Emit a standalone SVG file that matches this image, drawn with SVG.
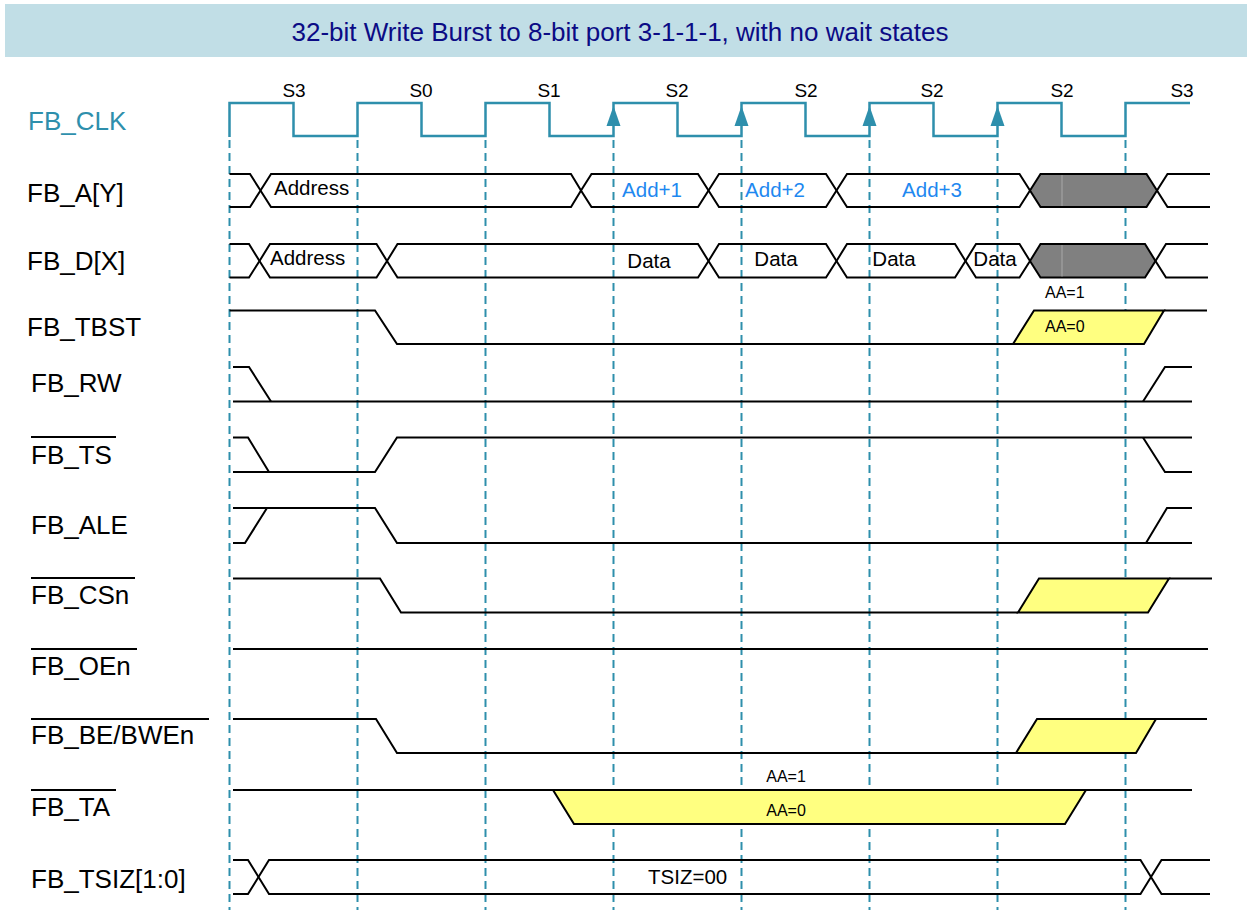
<svg xmlns="http://www.w3.org/2000/svg" width="1247" height="910" viewBox="0 0 1247 910">
<defs>
<style>
text{font-family:"Liberation Sans",Arial,Helvetica,sans-serif;}
.lbl{font-size:26px;fill:#000;}
.st{font-size:19px;fill:#000;text-anchor:middle;}
.bus{font-size:20.5px;fill:#000;}
.addr{font-size:20.5px;fill:#1e88f0;text-anchor:middle;}
.aa{font-size:16px;fill:#000;}
.sig{fill:none;stroke:#000;stroke-width:2;stroke-linejoin:miter;}
.hex{fill:none;stroke:#000;stroke-width:2;}
.grey{fill:#808080;stroke:#000;stroke-width:2;}
.yel{fill:#ffff80;stroke:#000;stroke-width:2;}
.ob{stroke:#000;stroke-width:2;}
.grid{stroke:#2e8fac;stroke-width:2;stroke-dasharray:8 5;}
.clk{fill:none;stroke:#2e8fac;stroke-width:2.5;}
.arr{fill:#2e8fac;}
</style>
</defs>
<rect width="1247" height="910" fill="#fff"/>
<g id="title">
<rect x="5" y="4" width="1242" height="53" fill="#c1dee6"/>
<text x="620" y="41" font-size="26" fill="#0b0b85" text-anchor="middle">32-bit Write Burst to 8-bit port 3-1-1-1, with no wait states</text>
</g>
<g id="gridlines">
<line class="grid" x1="229.5" y1="140" x2="229.5" y2="910"/>
<line class="grid" x1="357.5" y1="140" x2="357.5" y2="910"/>
<line class="grid" x1="485.5" y1="140" x2="485.5" y2="910"/>
<line class="grid" x1="613.5" y1="140" x2="613.5" y2="910"/>
<line class="grid" x1="741.5" y1="140" x2="741.5" y2="910"/>
<line class="grid" x1="869.5" y1="140" x2="869.5" y2="910"/>
<line class="grid" x1="997.5" y1="140" x2="997.5" y2="910"/>
<line class="grid" x1="1125.5" y1="140" x2="1125.5" y2="910"/>
</g>
<g id="FB_CLK">
<text x="28" y="130" class="lbl" style="fill:#2e8fac">FB_CLK</text>
<path class="clk" d="M229.5,137 V103 H293.5 V136 H357.5 V103 H421.5 V136 H485.5 V103 H549.5 V136 H613.5 V103 H677.5 V136 H741.5 V103 H805.5 V136 H869.5 V103 H933.5 V136 H997.5 V103 H1061.5 V136 H1125.5 V103 H1190"/>
<polygon class="arr" points="613.5,106 606.5,126 620.5,126"/>
<polygon class="arr" points="741.5,106 734.5,126 748.5,126"/>
<polygon class="arr" points="869.5,106 862.5,126 876.5,126"/>
<polygon class="arr" points="997.5,106 990.5,126 1004.5,126"/>
<text class="st" x="294" y="97">S3</text>
<text class="st" x="421" y="97">S0</text>
<text class="st" x="549" y="97">S1</text>
<text class="st" x="677" y="97">S2</text>
<text class="st" x="806" y="97">S2</text>
<text class="st" x="932" y="97">S2</text>
<text class="st" x="1062" y="97">S2</text>
<text class="st" x="1182" y="97">S3</text>
</g>
<g id="FB_A">
<text x="27" y="202" class="lbl">FB_A[Y]</text>
<path class="sig" d="M229.5,174 H250 L260.5,190.5 L250,207 H229.5"/>
<path class="hex" d="M260.5,190.5 L271,174 H571 L581,190.5 L571,207 H271 Z"/>
<path class="hex" d="M581,190.5 L591.5,174 H698 L708.5,190.5 L698,207 H591.5 Z"/>
<path class="hex" d="M708.5,190.5 L719,174 H826 L836.5,190.5 L826,207 H719 Z"/>
<path class="hex" d="M836.5,190.5 L847,174 H1019.5 L1030,190.5 L1019.5,207 H847 Z"/>
<path class="grey" d="M1030,190.5 L1040.5,174 H1146.5 L1157,190.5 L1146.5,207 H1040.5 Z"/>
<line x1="1062" y1="175" x2="1062" y2="206" stroke="#a8a8a8" stroke-width="1"/>
<path class="sig" d="M1210,174 H1167.5 L1157,190.5 L1167.5,207 H1210"/>
<text class="bus" x="274" y="195">Address</text>
<text class="addr" x="652" y="197">Add+1</text>
<text class="addr" x="775" y="197">Add+2</text>
<text class="addr" x="932" y="197">Add+3</text>
</g>
<g id="FB_D">
<text x="27" y="270" class="lbl">FB_D[X]</text>
<path class="sig" d="M229.5,244 H249 L259.5,261 L249,277.5 H229.5"/>
<path class="hex" d="M259.5,261 L270,244 H376.5 L387,261 L376.5,277.5 H270 Z"/>
<path class="hex" d="M387,261 L397.5,244 H698 L708.5,261 L698,277.5 H397.5 Z"/>
<path class="hex" d="M708.5,261 L719,244 H826 L836.5,261 L826,277.5 H719 Z"/>
<path class="hex" d="M836.5,261 L847,244 H955 L965.5,261 L955,277.5 H847 Z"/>
<path class="hex" d="M965.5,261 L976,244 H1019.5 L1030,261 L1019.5,277.5 H976 Z"/>
<path class="grey" d="M1030,261 L1040.5,244 H1145 L1155.5,261 L1145,277.5 H1040.5 Z"/>
<line x1="1062" y1="245" x2="1062" y2="276.5" stroke="#a8a8a8" stroke-width="1"/>
<path class="sig" d="M1208,244 H1166 L1155.5,261 L1166,277.5 H1208"/>
<text class="bus" x="270" y="265">Address</text>
<text class="bus" x="649" y="268" text-anchor="middle">Data</text>
<text class="bus" x="776" y="266" text-anchor="middle">Data</text>
<text class="bus" x="894" y="266" text-anchor="middle">Data</text>
<text class="bus" x="995" y="266" text-anchor="middle">Data</text>
</g>
<g id="FB_TBST">
<text x="27" y="336" class="lbl">FB_TBST</text>
<path class="sig" d="M229.5,310.5 H375 L397,344 H1013"/>
<polygon class="yel" points="1013,344 1034,310.5 1164,310.5 1144,344"/>
<path class="sig" d="M1164,310.5 H1207"/>
<text class="aa" x="1045" y="298">AA=1</text>
<text class="aa" x="1045" y="332">AA=0</text>
</g>
<g id="FB_RW">
<text x="31" y="392" class="lbl">FB_RW</text>
<path class="sig" d="M233,367 H249 L271,401.5"/>
<path class="sig" d="M233,401.5 H1192"/>
<path class="sig" d="M1143,401.5 L1165,367 H1192"/>
</g>
<g id="FB_TS">
<line class="ob" x1="31" y1="437" x2="116" y2="437"/>
<text x="31" y="464" class="lbl">FB_TS</text>
<path class="sig" d="M233,437.5 H248 L269,472"/>
<path class="sig" d="M233,472 H375 L397,437.5 H1192"/>
<path class="sig" d="M1143,437.5 L1165,472 H1192"/>
</g>
<g id="FB_ALE">
<text x="31" y="534" class="lbl">FB_ALE</text>
<path class="sig" d="M233,543 H245 L267,508"/>
<path class="sig" d="M233,508 H375 L397,543 H1192"/>
<path class="sig" d="M1146,543 L1167,508 H1192"/>
</g>
<g id="FB_CSn">
<line class="ob" x1="31" y1="578" x2="135" y2="578"/>
<text x="31" y="604" class="lbl">FB_CSn</text>
<path class="sig" d="M233,578.5 H380 L401,612.5 H1018"/>
<polygon class="yel" points="1018,612.5 1039,578.5 1169,578.5 1148,612.5"/>
<path class="sig" d="M1169,578.5 H1212"/>
</g>
<g id="FB_OEn">
<line class="ob" x1="31" y1="649" x2="137" y2="649"/>
<text x="31" y="675" class="lbl">FB_OEn</text>
<path class="sig" d="M233,649 H1208"/>
</g>
<g id="FB_BE_BWEn">
<line class="ob" x1="31" y1="719" x2="209" y2="719"/>
<text x="31" y="744" class="lbl">FB_BE/BWEn</text>
<path class="sig" d="M233,719 H376 L397,753 H1016"/>
<polygon class="yel" points="1016,753 1037,719 1156,719 1136,753"/>
<path class="sig" d="M1156,719 H1207"/>
</g>
<g id="FB_TA">
<line class="ob" x1="31" y1="790" x2="116" y2="790"/>
<text x="31" y="816" class="lbl">FB_TA</text>
<polygon class="yel" points="553,790 574,824 1065,824 1086,790"/>
<path class="sig" d="M233,790 H1192"/>
<text class="aa" x="786" y="782" text-anchor="middle">AA=1</text>
<text class="aa" x="786" y="816" text-anchor="middle">AA=0</text>
</g>
<g id="FB_TSIZ">
<text x="31" y="888" class="lbl">FB_TSIZ[1:0]</text>
<path class="sig" d="M233,860 H248 L258.5,877 L248,894 H233"/>
<path class="hex" d="M258.5,877 L269,860 H1140.5 L1151,877 L1140.5,894 H269 Z"/>
<path class="sig" d="M1210,860 H1161.5 L1151,877 L1161.5,894 H1210"/>
<text class="bus" x="648" y="884">TSIZ=00</text>
</g>
</svg>
